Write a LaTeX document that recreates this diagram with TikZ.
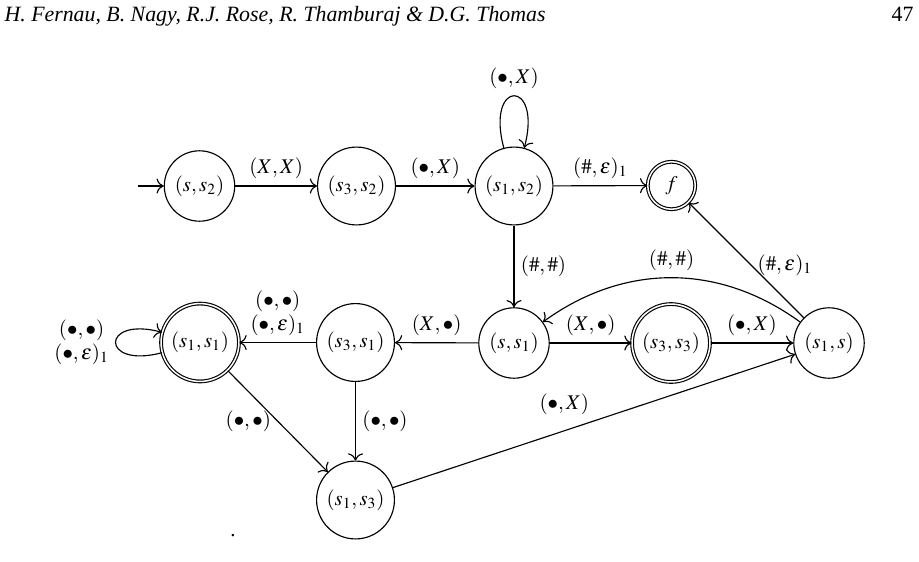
\documentclass[tikz,border=0pt]{standalone}
\usepackage{mathptmx}
\usepackage[no-math]{fontspec}
\setmainfont{Liberation Serif}
\usetikzlibrary{arrows.meta}
\begin{document}
\begin{tikzpicture}[x=0.5267pt,y=-0.5267pt,line width=0.6pt,
  every node/.style={font=\fontsize{11}{12.5}\selectfont},
  st/.style={draw,circle,inner sep=0.3333em,minimum size=25pt},
  acc/.style={st,double,double distance=0.8pt},
  ar/.style={-{To[scale=1.3]}},
  ml/.style={align=center,font=\fontsize{11}{12.5}\selectfont},
  hdr/.style={inner sep=0pt,font=\fontsize{11.5}{13}\selectfont}]
\useasboundingbox (0,0) rectangle (919,562);
% header
\node[hdr,anchor=base west,font=\fontsize{11.5}{13}\selectfont\itshape] (head) at (4,22) {H. Fernau, B. Nagy, R.J. Rose, R. Thamburaj \& D.G. Thomas};
\node[hdr,anchor=base east] (page) at (914,22) {47};
% states
\node[st] (ss2) at (199.5,186) {$(s,s_2)$};
\node[st] (s3s2) at (356.5,186) {$(s_3,s_2)$};
\node[st] (s1s2) at (514,186) {$(s_1,s_2)$};
\node[acc] (f) at (671.5,185.5) {$f$};
\node[st] (ss1) at (514,343) {$(s,s_1)$};
\node[acc] (s3s3) at (671,343) {$(s_3,s_3)$};
\node[st] (s1s) at (829,343) {$(s_1,s)$};
\node[st] (s3s1) at (355.5,342.5) {$(s_3,s_1)$};
\node[acc] (s1s1) at (200,342.5) {$(s_1,s_1)$};
\node[st] (s1s3) at (355.5,500) {$(s_1,s_3)$};
\coordinate (init) at (138,186);
\node[inner sep=0pt] (dot) at (233,536) {.};
% edges
\draw[ar] (init) -- (ss2);
\draw[ar] (ss2) -- node[above] {$(X,X)$} (s3s2);
\draw[ar] (s3s2) -- node[above] {$(\bullet,X)$} (s1s2);
\draw[ar] (s1s2) to[loop above,looseness=9] node[above] {$(\bullet,X)$} (s1s2);
\draw[ar] (s1s2) -- node[above] {$(\#,\varepsilon)_1$} (f);
\draw[ar] (s1s2) -- node[right] {$(\#,\#)$} (ss1);
\draw[ar] (s1s) -- node[pos=0.46,right] {$(\#,\varepsilon)_1$} (f);
\draw[ar] (s1s) to[bend right=36] node[above] {$(\#,\#)$} (ss1);
\draw[ar] (ss1) -- node[above] {$(X,\bullet)$} (s3s3);
\draw[ar] (s3s3) -- node[above] {$(\bullet,X)$} (s1s);
\draw[ar] (ss1) -- node[above] {$(X,\bullet)$} (s3s1);
\draw[ar] (s3s1) -- node[above,ml] {$(\bullet,\bullet)$\\$(\bullet,\varepsilon)_1$} (s1s1);
\draw[ar] (s1s1) to[loop left] node[left,ml] {$(\bullet,\bullet)$\\$(\bullet,\varepsilon)_1$} (s1s1);
\draw[ar] (s1s1) -- node[left] {$(\bullet,\bullet)$} (s1s3);
\draw[ar] (s3s1) -- node[right] {$(\bullet,\bullet)$} (s1s3);
\draw[ar] (s1s3) -- node[pos=0.426,above,yshift=5pt] {$(\bullet,X)$} (s1s);
\end{tikzpicture}
\end{document}
